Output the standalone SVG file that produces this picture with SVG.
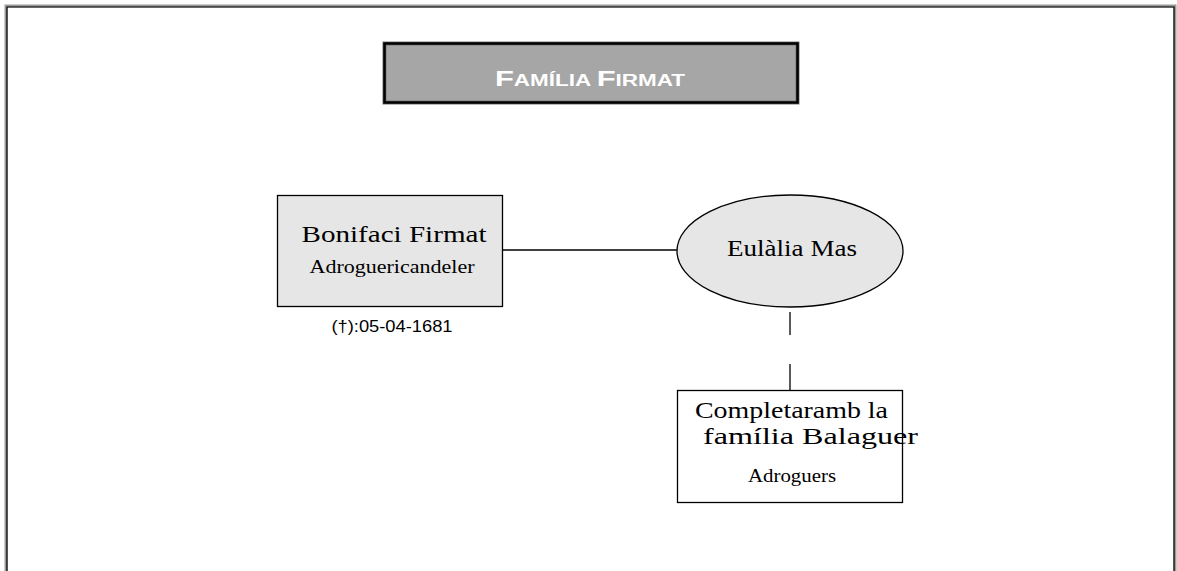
<svg xmlns="http://www.w3.org/2000/svg" width="1177" height="571" viewBox="0 0 1177 571">
<style>
.ln{stroke:#000;stroke-width:1.3;fill:none}
.nd{font-family:"Liberation Serif","DejaVu Serif",serif;fill:#000}
.sm{font-family:"Liberation Sans",Arial,sans-serif;fill:#000}
</style>
<rect width="1177" height="571" fill="#fff"/>
<g id="frame">
<path d="M6,580 V6 H1175 V580" fill="none" stroke="#999" stroke-width="3"/>
<path d="M7,580 V7 H1174 V580" fill="none" stroke="#000" stroke-width="1.2"/>
</g>
<g id="title">
<rect x="384.5" y="43.5" width="413" height="59" fill="#a6a6a6" stroke="#777" stroke-width="4"/>
<rect x="384.5" y="43.5" width="413" height="59" fill="none" stroke="#000" stroke-width="2.5"/>
<text x="590" y="86" text-anchor="middle" font-family="'Liberation Sans',Arial,sans-serif" font-weight="bold" fill="#fff" textLength="190" lengthAdjust="spacingAndGlyphs"><tspan font-size="22">F</tspan><tspan font-size="16">AMÍLIA </tspan><tspan font-size="22">F</tspan><tspan font-size="16">IRMAT</tspan></text>
</g>
<g id="connectors">
<line class="ln" x1="503" y1="250" x2="679" y2="250"/>
<line class="ln" x1="790" y1="312" x2="790" y2="335"/>
<line class="ln" x1="790" y1="364" x2="790" y2="390"/>
</g>
<g id="bonifaci">
<rect x="277.5" y="195.5" width="225" height="111" fill="#e6e6e6" stroke="#000" stroke-width="1.3"/>
<text class="nd" x="394" y="242" font-size="23" text-anchor="middle" textLength="185" lengthAdjust="spacingAndGlyphs">Bonifaci Firmat</text>
<text class="nd" x="392" y="273" font-size="18" text-anchor="middle" textLength="165" lengthAdjust="spacingAndGlyphs">Adroguericandeler</text>
<text class="sm" x="392" y="332" font-size="16" text-anchor="middle" textLength="121" lengthAdjust="spacingAndGlyphs">(†):05-04-1681</text>
</g>
<g id="eulalia">
<ellipse cx="790" cy="251" rx="113" ry="56" fill="#e6e6e6" stroke="#000" stroke-width="1.3"/>
<text class="nd" x="792" y="256" font-size="23" text-anchor="middle" textLength="130" lengthAdjust="spacingAndGlyphs">Eulàlia Mas</text>
</g>
<g id="balaguer">
<rect x="677.5" y="390.5" width="225" height="112" fill="#fff" stroke="#000" stroke-width="1.3"/>
<text class="nd" x="695" y="418" font-size="23" textLength="193" lengthAdjust="spacingAndGlyphs">Completaramb la</text>
<text class="nd" x="703" y="444" font-size="23" textLength="215" lengthAdjust="spacingAndGlyphs">família Balaguer</text>
<text class="nd" x="792" y="482" font-size="18" text-anchor="middle" textLength="88" lengthAdjust="spacingAndGlyphs">Adroguers</text>
</g>
</svg>
